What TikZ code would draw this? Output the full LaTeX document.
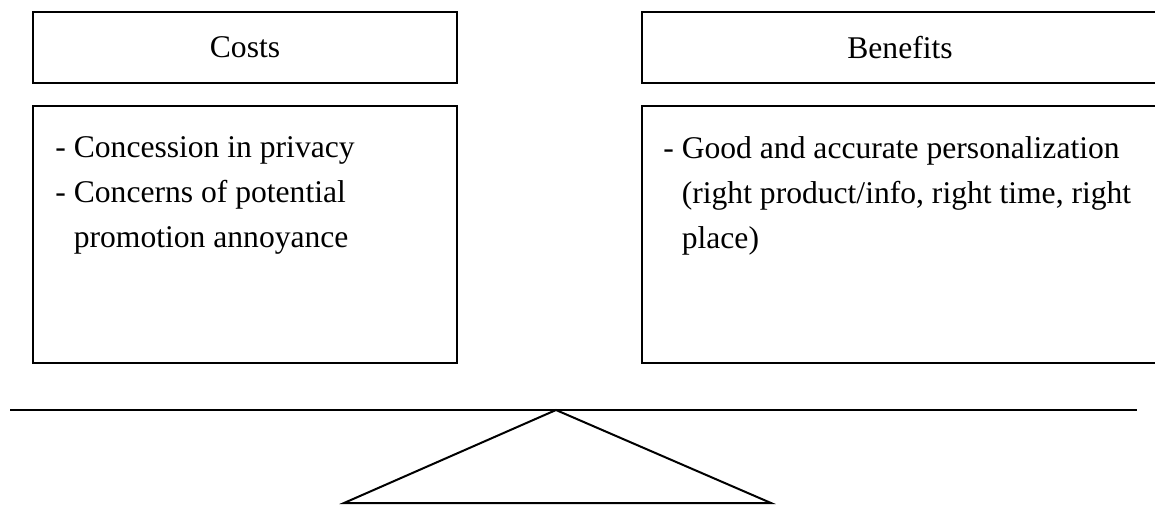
\documentclass[tikz,border=0pt]{standalone}
\usepackage{fontspec}
\setmainfont{Liberation Serif}
\usetikzlibrary{positioning}

\begin{document}
\begin{tikzpicture}[
        x=0.5pt, y=-0.5pt,
        cabeza/.style={draw, line width=1pt, minimum height=35.5pt, inner sep=0pt, font={\fontsize{15.8}{22.5}\selectfont}},
        cuerpo/.style={draw, line width=1pt, minimum height=128.5pt, inner sep=0pt},
        lista/.style={align=left, inner sep=0pt, anchor=north west, font={\fontsize{15.8}{22.5}\selectfont}},
        barra/.style={line width=1pt}
    ]
        \useasboundingbox (0,0) rectangle (1155,505);

        \node[cabeza, minimum width=212pt] (costs) at (245,47.5) {Costs};
        \node[cabeza, minimum width=258pt] (benefits) at (900,47.5) {Benefits};

        \node[cuerpo, minimum width=212pt] (costsbody) at (245,234.5) {};
        \node[cuerpo, minimum width=258pt] (benefitsbody) at (900,234.5) {};

        % textos de las listas
        \node[lista] (costslist) at (55,136) {- Concession in privacy\\- Concerns of potential\\\hphantom{-}\ promotion annoyance};
        \node[lista] (benefitslist) at (663,136) {- Good and accurate personalization\\\hphantom{-}\ (right product/info, right time, right\\\hphantom{-}\ place)};

        % balanza
        \coordinate (beamleft) at (10,410);
        \coordinate (beamright) at (1137,410);
        \coordinate (apex) at (556,410);
        \draw[barra] (beamleft) -- (beamright);
        \draw[barra, line join=miter] (apex) -- (771,503) -- (344,503) -- cycle;
\end{tikzpicture}
\end{document}
